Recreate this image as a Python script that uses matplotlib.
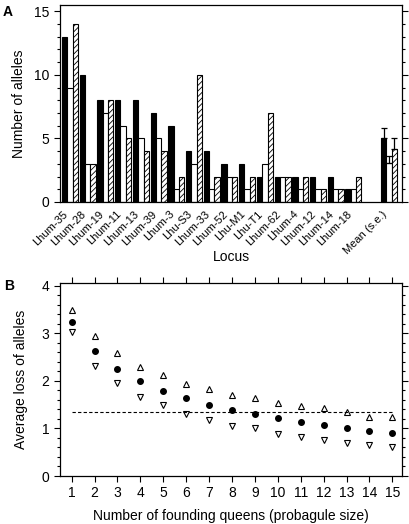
import numpy as np
import matplotlib
matplotlib.use('Agg')
import matplotlib.pyplot as plt
from matplotlib.ticker import MultipleLocator

plt.rcParams['font.family'] = ['Liberation Sans', 'DejaVu Sans']
plt.rcParams['hatch.linewidth'] = 0.6

loci = ['Lhum-35', 'Lhum-28', 'Lhum-19', 'Lhum-11', 'Lhum-13', 'Lhum-39', 'Lhum-3', 'Lhu-S3',
        'Lhum-33', 'Lhum-52', 'Lhu-M1', 'Lhu-T1', 'Lhum-62', 'Lhum-4', 'Lhum-12', 'Lhum-14', 'Lhum-18']
black_vals = [13, 10, 8, 8, 8, 7, 6, 4, 4, 3, 3, 2, 2, 2, 2, 2, 1]
white_vals = [9, 3, 7, 6, 5, 5, 1, 3, 1, 2, 1, 3, 2, 1, 1, 1, 1]
hatch_vals = [14, 3, 8, 5, 4, 4, 2, 10, 2, 2, 2, 7, 2, 2, 1, 1, 2]
mean_se = [0.84, 0.55, 0.86]
mean_label = 'Mean (s.e.)'

queens = list(range(1, 16))
loss_mean = [3.24, 2.63, 2.26, 1.99, 1.79, 1.64, 1.50, 1.39, 1.30, 1.21, 1.13, 1.07, 1.01, 0.95, 0.90]
loss_upper = [3.49, 2.95, 2.59, 2.30, 2.12, 1.93, 1.83, 1.71, 1.65, 1.53, 1.47, 1.42, 1.35, 1.25, 1.25]
loss_lower = [3.02, 2.31, 1.95, 1.67, 1.49, 1.30, 1.18, 1.06, 1.00, 0.88, 0.83, 0.76, 0.70, 0.65, 0.60]
ref_line = 1.34

fig = plt.figure(figsize=(4.1, 5.24), dpi=100)
axA = fig.add_axes([60/410, 1-202/524, 342/410, 197/524])
axB = fig.add_axes([60/410, 1-476/524, 342/410, 193/524])

# panel A
x = np.arange(len(loci))
xm = len(loci) + 1
means = [np.mean(black_vals), np.mean(white_vals), np.mean(hatch_vals)]
w = 0.3
kw = dict(width=w, edgecolor='black', linewidth=0.8)
axA.bar(x - w, black_vals, color='black', **kw)
axA.bar(x, white_vals, color='white', **kw)
axA.bar(x + w, hatch_vals, color='white', hatch='//////', **kw)
axA.bar(xm - w, means[0], color='black', **kw)
axA.bar(xm, means[1], color='white', **kw)
axA.bar(xm + w, means[2], color='white', hatch='//////', **kw)
axA.errorbar([xm - w, xm, xm + w], means, yerr=[[0, 0, 0], mean_se], fmt='none',
             ecolor='black', elinewidth=0.9, capsize=2, capthick=0.9)

axA.set_xlim(-0.564, 18.74)
axA.set_ylim(0, 15.5)
axA.set_xticks(list(x) + [xm])
axA.set_xticklabels(loci + [mean_label], rotation=45, ha='right', rotation_mode='default', fontsize=8)
axA.tick_params(axis='x', length=0, pad=5)
axA.yaxis.set_major_locator(MultipleLocator(5))
axA.yaxis.set_minor_locator(MultipleLocator(1))
axA.tick_params(axis='y', which='both', direction='out', left=True, right=True, labelsize=10, width=0.8)
axA.tick_params(axis='y', which='major', length=4)
axA.tick_params(axis='y', which='minor', length=2.5)
axA.set_ylabel('Number of alleles', fontsize=10, labelpad=6)
axA.set_xlabel('Locus', fontsize=10, labelpad=-4)

# panel B
axB.plot(queens, loss_upper, linestyle='none', marker='^', markersize=5, markerfacecolor='white',
         markeredgecolor='black', markeredgewidth=0.8)
axB.plot(queens, loss_mean, linestyle='none', marker='o', markersize=4, color='black')
axB.plot(queens, loss_lower, linestyle='none', marker='v', markersize=5, markerfacecolor='white',
         markeredgecolor='black', markeredgewidth=0.8)
axB.plot([queens[0], queens[-1]], [ref_line, ref_line], color='black', linewidth=0.8, linestyle=(0, (3, 2)))

axB.set_xlim(0.49, 15.42)
axB.set_ylim(0, 4.06)
axB.set_xticks(queens)
axB.yaxis.set_major_locator(MultipleLocator(1))
axB.yaxis.set_minor_locator(MultipleLocator(0.2))
axB.tick_params(axis='x', which='both', direction='out', top=True, bottom=True, length=4, width=0.8, labelsize=10)
axB.tick_params(axis='y', which='both', direction='out', left=True, right=True, labelsize=10, width=0.8)
axB.tick_params(axis='y', which='major', length=4)
axB.tick_params(axis='y', which='minor', length=2.5)
axB.set_ylabel('Average loss of alleles', fontsize=10, labelpad=10)
axB.set_xlabel('Number of founding queens (probagule size)', fontsize=10, labelpad=6)

for ax in (axA, axB):
    for s in ax.spines.values():
        s.set_linewidth(0.9)

fig.text(8/410, 1-12/524, 'A', fontsize=10, fontweight='bold', ha='center', va='center')
fig.text(9/410, 1-286/524, 'B', fontsize=10, fontweight='bold', ha='center', va='center')

fig.savefig('out.png', dpi=100)
